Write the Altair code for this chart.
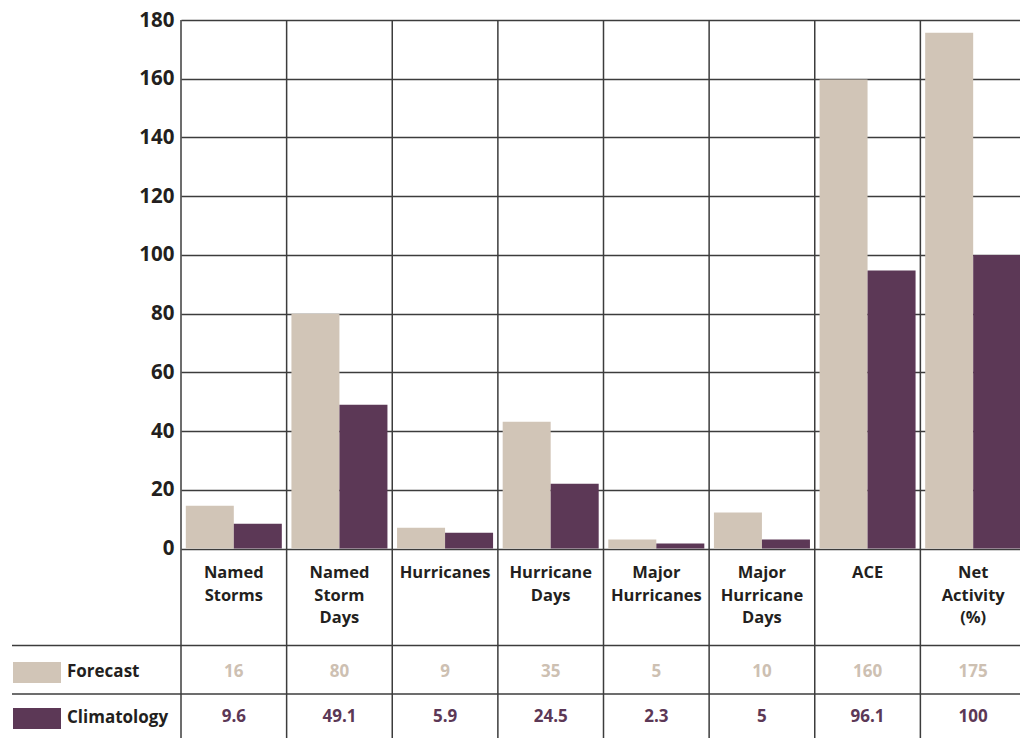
import altair as alt
import pandas as pd

categories = ["Named Storms", "Named Storm Days", "Hurricanes", "Hurricane Days",
              "Major Hurricanes", "Major Hurricane Days", "ACE", "Net Activity (%)"]
header_labels = ["Named\nStorms", "Named\nStorm\nDays", "Hurricanes", "Hurricane\nDays",
                 "Major\nHurricanes", "Major\nHurricane\nDays", "ACE", "Net\nActivity\n(%)"]
series = ["Forecast", "Climatology"]
# bar heights as drawn in the picture
forecast_bar = [14.6, 80, 7.1, 43.2, 3.1, 12.3, 159.7, 175.7]
climatology_bar = [8.5, 49, 5.4, 22.1, 1.7, 3.1, 94.7, 100]
# values printed in the table
forecast_table = ["16", "80", "9", "35", "5", "10", "160", "175"]
climatology_table = ["9.6", "49.1", "5.9", "24.5", "2.3", "5", "96.1", "100"]
y_ticks = [0, 20, 40, 60, 80, 100, 120, 140, 160, 180]

TAN = "#d1c5b7"
PURPLE = "#5c3856"
INK = "#231f20"
GRID = "#3c3c3c"
FONT = "Open Sans"

bars_df = pd.DataFrame({
    "category": categories * 2,
    "series": ["Forecast"] * 8 + ["Climatology"] * 8,
    "value": forecast_bar + climatology_bar,
})
head_df = pd.DataFrame({"category": categories, "label": header_labels})
fc_df = pd.DataFrame({"category": categories, "txt": forecast_table})
cl_df = pd.DataFrame({"category": categories, "txt": climatology_table})
leg_fc = pd.DataFrame({"name": ["Forecast"]})
leg_cl = pd.DataFrame({"name": ["Climatology"]})

x_scale = alt.Scale(domain=categories, range=[0, 845], paddingInner=0, paddingOuter=0)
x_plain = alt.X("category:N", sort=categories, scale=x_scale, axis=None)

bars = alt.Chart(bars_df).mark_bar(size=48).encode(
    x=x_plain,
    xOffset=alt.XOffset("series:N", sort=series,
                        scale=alt.Scale(domain=series, paddingInner=0, paddingOuter=0.1)),
    y=alt.Y("value:Q",
            scale=alt.Scale(domain=[-64.5, 180], nice=False, zero=False),
            axis=alt.Axis(values=y_ticks, grid=True, gridColor=GRID, gridWidth=1.5,
                          gridOpacity=1, ticks=False, domain=False, title=None,
                          labelFont=FONT, labelFontSize=20.5, labelFontWeight="bold",
                          labelColor=INK, labelPadding=7)),
    y2=alt.datum(0),
    color=alt.Color("series:N", scale=alt.Scale(domain=series, range=[TAN, PURPLE]),
                    legend=None),
)

vlines = alt.Chart(head_df).mark_rule(color=GRID, strokeWidth=1.5).encode(
    x=alt.X("category:N", sort=categories, scale=x_scale, axis=None, bandPosition=0),
    y=alt.value(0), y2=alt.value(718))

headers = alt.Chart(head_df).mark_text(
    font=FONT, fontSize=16.5, fontWeight="bold", color=INK, baseline="top",
    align="center", lineBreak="\n", lineHeight=22.5
).encode(x=x_plain, y=alt.value(545), text="label:N")

fc_text = alt.Chart(fc_df).mark_text(
    font=FONT, fontSize=17, fontWeight="bold", color="#cdc0b2", baseline="middle"
).encode(x=x_plain, y=alt.value(652), text="txt:N")

cl_text = alt.Chart(cl_df).mark_text(
    font=FONT, fontSize=17, fontWeight="bold", color=PURPLE, baseline="middle"
).encode(x=x_plain, y=alt.value(697), text="txt:N")

hline1 = alt.Chart(leg_fc).mark_rule(color=GRID, strokeWidth=1.5).encode(
    x=alt.value(-169), x2=alt.value(845), y=alt.value(625.5))
hline2 = alt.Chart(leg_fc).mark_rule(color=GRID, strokeWidth=1.5).encode(
    x=alt.value(-169), x2=alt.value(845), y=alt.value(674))

sw_fc = alt.Chart(leg_fc).mark_rect(color=TAN).encode(
    x=alt.value(-168), x2=alt.value(-120), y=alt.value(642), y2=alt.value(663))
sw_cl = alt.Chart(leg_cl).mark_rect(color=PURPLE).encode(
    x=alt.value(-168), x2=alt.value(-120), y=alt.value(688), y2=alt.value(709))
lt_fc = alt.Chart(leg_fc).mark_text(
    font=FONT, fontSize=17, fontWeight="bold", color=INK, align="left", baseline="middle"
).encode(x=alt.value(-114), y=alt.value(652), text="name:N")
lt_cl = alt.Chart(leg_cl).mark_text(
    font=FONT, fontSize=17, fontWeight="bold", color=INK, align="left", baseline="middle"
).encode(x=alt.value(-114), y=alt.value(698), text="name:N")

chart = alt.layer(
    bars, vlines, headers, fc_text, cl_text, hline1, hline2, sw_fc, sw_cl, lt_fc, lt_cl
).properties(
    width=839, height=718,
    autosize=alt.AutoSizeParams(type="none"),
    padding={"left": 181, "top": 20, "right": 0, "bottom": 0},
    background="white",
).configure_view(stroke=None)

chart.save("out.html", embed_options={"renderer": "svg", "actions": False})
